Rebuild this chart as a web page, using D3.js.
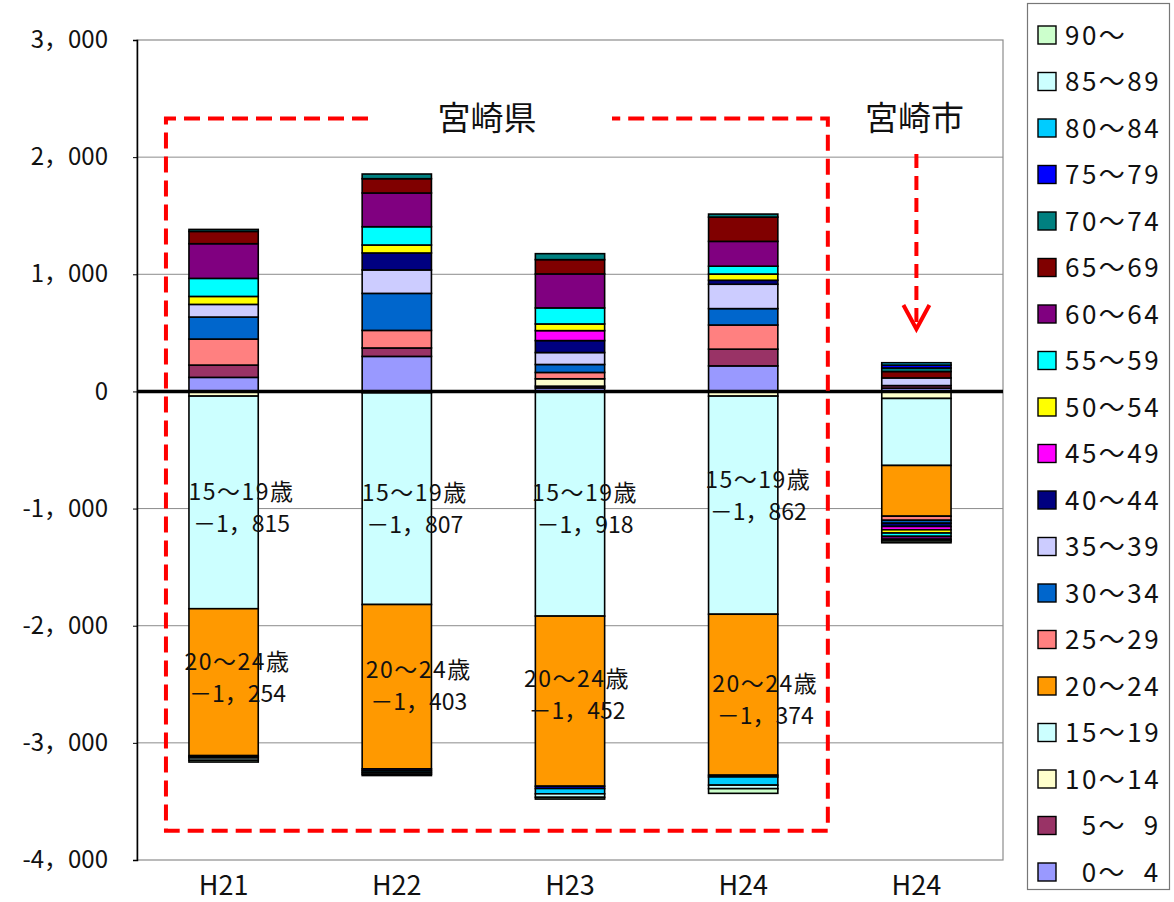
<!DOCTYPE html>
<html lang="ja">
<head>
  <meta charset="UTF-8">
  <title>年齢別転入超過数</title>
  <script src="https://d3js.org/d3.v7.min.js"></script>
  <style>
    body {
      margin: 0;
      background: #fff;
      font-family: "Noto Sans CJK JP", "Noto Sans", sans-serif;
    }
    text { fill: #111; }
  </style>
</head>
<body>
  <svg width="1174" height="902"></svg>

  <script>
    // data
    const barNames = ["H21", "H22", "H23", "H24", "H24"];
    const ageGroups = [
      "0～ 4", "5～ 9", "10～14", "15～19", "20～24", "25～29", "30～34",
      "35～39", "40～44", "45～49", "50～54", "55～59", "60～64", "65～69",
      "70～74", "75～79", "80～84", "85～89", "90～"
    ];
    const ageColors = [
      "#9999FF", "#993366", "#FFFFCC", "#CCFFFF", "#FF9900", "#FF8080", "#0066CC",
      "#CCCCFF", "#000080", "#FF00FF", "#FFFF00", "#00FFFF", "#800080", "#800000",
      "#008080", "#0000FF", "#00CCFF", "#CCFFFF", "#CCFFCC"
    ];
    const prefH21 = [120, 105, -40, -1815, -1254, 222, 188, 108, 0, 0, 68, 154, 296, 105, 17, -10, -10, -20, -15];
    const prefH22 = [299, 72, -12, -1807, -1403, 150, 316, 200, 145, 0, 68, 156, 288, 122, 40, -15, -15, -15, -12];
    const prefH23 = [30, 15, 63, -1918, -1452, 54, 68, 102, 102, 85, 57, 137, 290, 122, 51, -20, -45, -30, -15];
    const prefH24 = [218, 143, -40, -1862, -1374, 206, 140, 208, 34, 0, 53, 67, 212, 207, 26, -15, -70, -30, -40];
    const cityH24 = [28, 22, -60, -572, -433, -35, -25, 65, -28, -28, -28, -28, -25, 55, 30, 25, 20, -15, -15];
    const yTicks = [3000, 2000, 1000, 0, -1000, -2000, -3000, -4000];
    const labeledAges = [3, 4];          // 15～19, 20～24 get value labels
    const labeledBars = [0, 1, 2, 3];    // prefecture bars only

    const allSeries = [prefH21, prefH22, prefH23, prefH24, cityH24];

    // hand-placed label nudges (px), as dragged in the original
    const nudgeX = { 3: [0, 0, -3, -3], 4: [-4, 4, -11, 4] };
    const nudgeY = { 3: [5, 9, 4, -10], 4: [-5, -2, -7, 4] };

    const svg = d3.select("svg");
    const plotL = 137, plotR = 1003, plotT = 40, plotB = 860;

    const x = d3.scaleBand().domain(d3.range(barNames.length)).range([plotL, plotR]).paddingInner(0.6).paddingOuter(0.3);
    const y = d3.scaleLinear().domain([-4000, 3000]).range([plotB, plotT]);

    // table for stack
    const rows = allSeries.map((vals, i) => {
      const r = { idx: i };
      ageGroups.forEach((a, k) => r[a] = vals[k]);
      return r;
    });
    const stack = d3.stack().keys(ageGroups).offset(d3.stackOffsetDiverging);
    const layers = stack(rows);

    // gridlines
    svg.append("g")
      .selectAll("line")
      .data(yTicks.filter(d => d !== 0 && d !== 3000 && d !== -4000))
      .join("line")
      .attr("x1", plotL).attr("x2", plotR)
      .attr("y1", d => y(d)).attr("y2", d => y(d))
      .attr("stroke", "#8c8c8c").attr("stroke-width", 1);

    // plot frame
    svg.append("rect")
      .attr("x", plotL).attr("y", plotT)
      .attr("width", plotR - plotL).attr("height", plotB - plotT)
      .attr("fill", "none").attr("stroke", "#8c8c8c").attr("stroke-width", 1.2);

    // y axis
    const fmt = d => (d < 0 ? "-" : "") + d3.format(",")(Math.abs(d)).replace(/,/g, "，");
    const yAxis = svg.append("g")
      .attr("transform", `translate(${plotL},0)`)
      .call(d3.axisLeft(y).tickValues(yTicks).tickSize(4).tickPadding(25).tickFormat(fmt));
    yAxis.select(".domain").attr("stroke", "#000").attr("stroke-width", 1.5);
    yAxis.selectAll(".tick line").attr("stroke", "#000");
    yAxis.selectAll("text").attr("font-size", 24).attr("font-family", "'Noto Sans CJK JP'").attr("fill", "#111");

    // x labels
    svg.append("g")
      .selectAll("text")
      .data(barNames)
      .join("text")
      .attr("x", (d, i) => x(i) + x.bandwidth() / 2)
      .attr("y", 895)
      .attr("text-anchor", "middle")
      .attr("font-size", 27)
      .text(d => d);

    // bars
    svg.append("g")
      .selectAll("g")
      .data(layers)
      .join("g")
      .attr("fill", (d, i) => ageColors[i])
      .selectAll("rect")
      .data(d => d.filter(s => s[1] !== s[0]))
      .join("rect")
      .attr("x", d => x(d.data.idx))
      .attr("width", x.bandwidth())
      .attr("y", d => y(Math.max(d[0], d[1])))
      .attr("height", d => Math.abs(y(d[0]) - y(d[1])))
      .attr("stroke", "#000")
      .attr("stroke-width", 1.6);

    // zero line
    svg.append("line")
      .attr("x1", plotL).attr("x2", plotR)
      .attr("y1", y(0)).attr("y2", y(0))
      .attr("stroke", "#000").attr("stroke-width", 3.5);

    // value labels for 15～19 and 20～24
    const valFmt = v => (v < 0 ? "－" : "") + d3.format(",")(Math.abs(v)).replace(/,/g, "，");
    labeledAges.forEach(k => {
      labeledBars.forEach((b, j) => {
        const seg = layers[k][b];
        const cy = y((seg[0] + seg[1]) / 2) + nudgeY[k][j];
        const cx = x(b) + x.bandwidth() / 2 + 18 + nudgeX[k][j];
        svg.append("text")
          .attr("x", cx).attr("y", cy - 7)
          .attr("text-anchor", "middle")
          .attr("font-size", 23)
          .attr("letter-spacing", 1.5)
          .text(ageGroups[k] + "歳");
        svg.append("text")
          .attr("x", cx).attr("y", cy + 25)
          .attr("text-anchor", "middle")
          .attr("font-size", 23)
          .text(valFmt(allSeries[b][k]));
      });
    });

    // dashed frame around prefecture bars
    const fx0 = x(0) - 23, fx1 = x(3) + x.bandwidth() + 50, fy0 = y(2330), fy1 = y(-3750);
    const red = "#ff0000";
    const frame = svg.append("g").attr("fill", "none").attr("stroke", red).attr("stroke-width", 4).attr("stroke-dasharray", "16,8");
    frame.append("path").attr("d", `M368,${fy0} H${fx0} V${fy1} H${fx1} V${fy0} H612`);

    svg.append("text")
      .attr("x", 487).attr("y", fy0 + 12)
      .attr("text-anchor", "middle")
      .attr("font-size", 33)
      .text("宮崎県");

    const cityX = x(4) + x.bandwidth() / 2;
    svg.append("text")
      .attr("x", cityX - 2).attr("y", fy0 + 12)
      .attr("text-anchor", "middle")
      .attr("font-size", 33)
      .text("宮崎市");

    // arrow
    svg.append("line")
      .attr("x1", cityX).attr("x2", cityX)
      .attr("y1", 154).attr("y2", 326)
      .attr("stroke", red).attr("stroke-width", 4).attr("stroke-dasharray", "14,8");
    svg.append("path")
      .attr("d", `M${cityX - 13},${305} L${cityX},${329} L${cityX + 13},${305}`)
      .attr("fill", "none").attr("stroke", red).attr("stroke-width", 4);

    // legend
    const lg = svg.append("g");
    lg.append("rect")
      .attr("x", 1027.5).attr("y", 3.5).attr("width", 142).attr("height", 886)
      .attr("fill", "#fff").attr("stroke", "#777").attr("stroke-width", 1.2);
    const legendItems = ageGroups.map((a, i) => ({ a, c: ageColors[i] })).reverse();
    const ly = d3.scalePoint().domain(d3.range(legendItems.length)).range([35, 872]);
    const li = lg.selectAll("g.item")
      .data(legendItems)
      .join("g")
      .attr("class", "item")
      .attr("transform", (d, i) => `translate(1038,${ly(i)})`);
    li.append("rect")
      .attr("x", 0).attr("y", -9).attr("width", 18).attr("height", 18)
      .attr("fill", d => d.c).attr("stroke", "#000").attr("stroke-width", 1.4);
    li.append("text")
      .attr("x", 27).attr("y", 9.5)
      .attr("font-size", 26)
      .attr("letter-spacing", 2.5)
      .style("white-space", "pre")
      .text(d => d.a.replace(/^(\d)～ (\d)$/, "  $1～  $2"));
  </script>
</body>
</html>
